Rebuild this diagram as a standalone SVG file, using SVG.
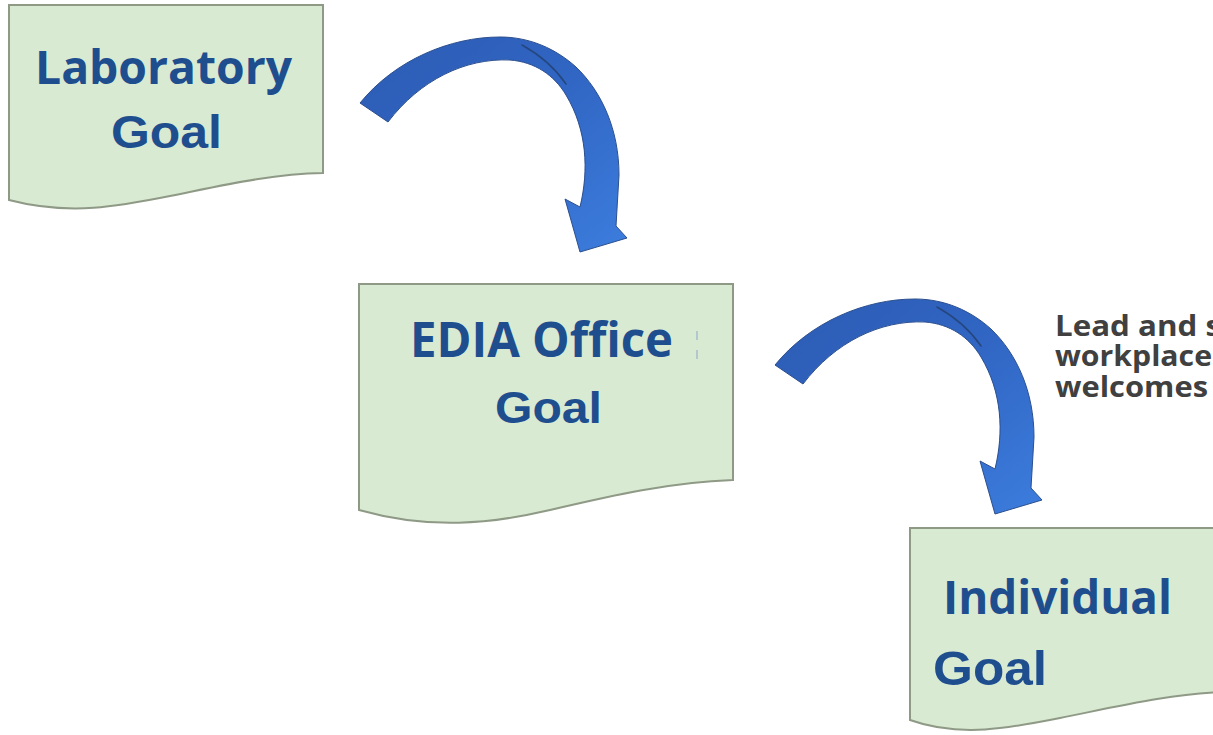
<svg xmlns="http://www.w3.org/2000/svg" width="1213" height="735" viewBox="0 0 1213 735">
  <defs>
    <style>
      .doc { fill: #d9ead3; stroke: #8f9a86; stroke-width: 2; }
      .title { font-family: "Open Sans", "Liberation Sans", sans-serif; font-weight: 700; fill: #1f4e8f; }
      .goal { font-family: "Liberation Sans", Arial, sans-serif; font-weight: 700; fill: #1f4e8f; }
      .note { font-family: "Open Sans", "Liberation Sans", sans-serif; font-weight: 700; fill: #404040; font-size: 29px; }
      .arrow { fill: url(#arrowFill); stroke: #2b4f8f; stroke-width: 1; stroke-linejoin: round; }
      .twist { fill: none; stroke: #23406f; stroke-width: 1.6; stroke-linecap: round; opacity: 0.8; }
    </style>
    <linearGradient id="arrowFill" x1="0" y1="0" x2="1" y2="1">
      <stop offset="0" stop-color="#2c5bb3"/>
      <stop offset="0.5" stop-color="#3166c4"/>
      <stop offset="1" stop-color="#3c7ddd"/>
    </linearGradient>
    <!-- curved block arrow, tail at left, head pointing down -->
    <g id="curvedArrow">
      <path class="arrow" d="M360,103 C395,60 450,37 500,37 C530,37 556,49 576,67 C602,92 619,130 619,175 L616,226 L627,238 L580,252 L565,199 L580,207 C589,170 587,130 566,95 C554,75 535,62 510,60 C465,58 420,80 388,122 Z"/>
      <path class="twist" d="M522,45 C540,55 555,68 566,84"/>
    </g>
  </defs>

  <rect width="1213" height="735" fill="#ffffff"/>

  <!-- connectors -->
  <g id="connectors">
    <use href="#curvedArrow"/>
    <use href="#curvedArrow" transform="translate(415,262)"/>
  </g>

  <!-- Laboratory Goal -->
  <g id="node-laboratory">
    <path class="doc" d="M9,5 L323,5 L323,173 C270,174 220,186 170,196 C120,206 70,216 9,200 Z"/>
    <text class="title" x="35" y="84" font-size="46" textLength="257" lengthAdjust="spacingAndGlyphs">Laboratory</text>
    <text class="goal" x="111" y="148" font-size="46" textLength="111" lengthAdjust="spacingAndGlyphs">Goal</text>
  </g>

  <!-- EDIA Office Goal -->
  <g id="node-edia">
    <path class="doc" d="M359,284 L733,284 L733,480 C670,482 610,496 550,510 C490,524 430,530 359,510 Z"/>
    <text class="title" x="410" y="357" font-size="48" textLength="263" lengthAdjust="spacingAndGlyphs">EDIA Office</text>
    <text class="goal" x="495" y="423" font-size="45" textLength="107" lengthAdjust="spacingAndGlyphs">Goal</text>
    <path d="M697,331 L697,340 M697,350 L697,359" stroke="#a9bccd" stroke-width="1.5" fill="none"/>
  </g>

  <!-- Individual Goal -->
  <g id="node-individual">
    <path class="doc" d="M910,528 L1225,528 L1225,692 C1170,694 1120,706 1060,718 C1010,728 960,738 910,720 Z"/>
    <text class="title" x="943" y="614" font-size="47" textLength="229" lengthAdjust="spacingAndGlyphs">Individual</text>
    <text class="goal" x="933" y="685" font-size="48" textLength="114" lengthAdjust="spacingAndGlyphs">Goal</text>
  </g>

  <!-- side note, running off the right edge -->
  <g id="note">
    <text class="note" x="1055" y="336" textLength="166" lengthAdjust="spacingAndGlyphs">Lead and s</text>
    <text class="note" x="1055" y="366" textLength="157" lengthAdjust="spacingAndGlyphs">workplace</text>
    <text class="note" x="1055" y="397" textLength="153" lengthAdjust="spacingAndGlyphs">welcomes</text>
  </g>
</svg>
